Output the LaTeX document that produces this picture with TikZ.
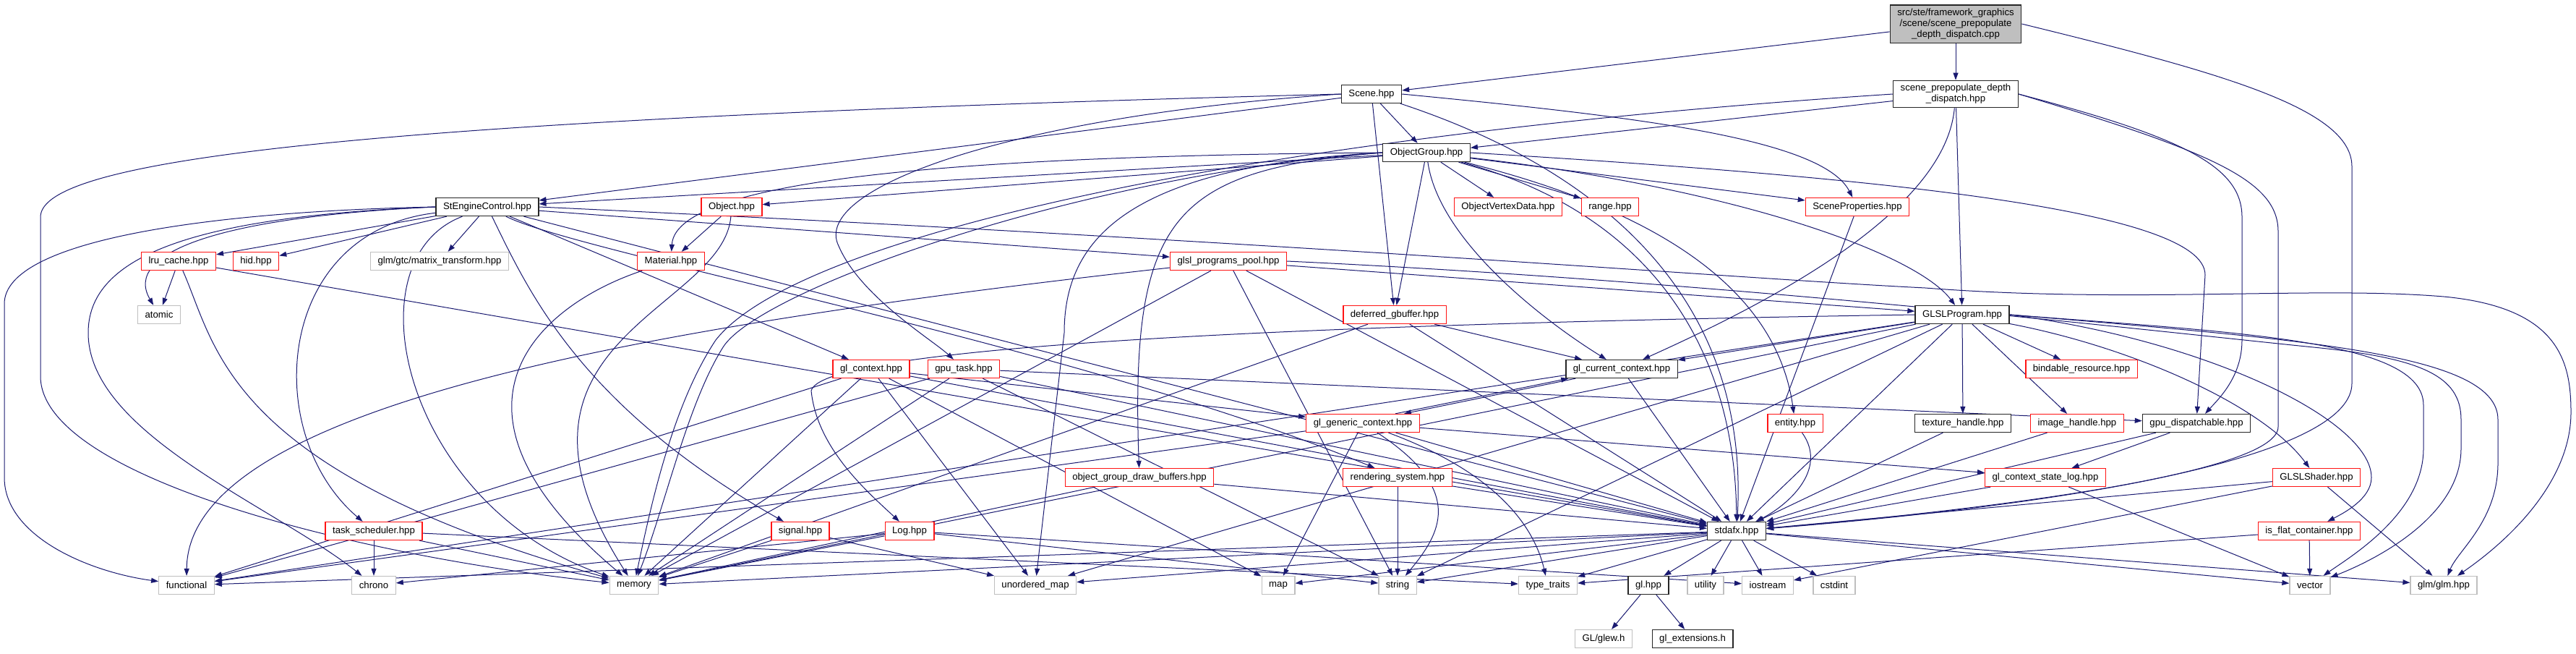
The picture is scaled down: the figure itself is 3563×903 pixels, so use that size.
\documentclass[tikz,border=0pt]{standalone}
\usepackage{fontspec}
\setmainfont{Liberation Sans}
\usepackage{xcolor}
\usepackage{tikz}
\usetikzlibrary{arrows.meta,calc,backgrounds}
\definecolor{edgeblue}{RGB}{25,25,112}
\definecolor{grey75}{RGB}{191,191,191}
\definecolor{truncred}{RGB}{255,20,20}
\newcommand{\filefont}{\fontsize{13.2}{15}\selectfont}

\begin{document}
\begin{tikzpicture}[
  x=1pt, y=-1pt,
  file/.style={draw, fill=white, align=center, font=\filefont, inner xsep=10pt, inner ysep=5pt, minimum height=25pt, line width=1.3pt},
  srcfile/.style={file, draw=black!85, fill=grey75},
  docfile/.style={file, draw=black!85},
  truncfile/.style={file, draw=truncred},
  sysfile/.style={file, draw=grey75},
  arr/.style={-{Triangle[length=10pt, width=7pt]}, line width=1pt, draw=edgeblue, fill=none}
]
\useasboundingbox (0,0) rectangle (3563,903);

% top of the graph
\node[srcfile] (cpp) at (2705,33) {src/ste/framework\_graphics\\/scene/scene\_prepopulate\\\_depth\_dispatch.cpp};
\node[docfile] (sceneprep) at (2705,130) {scene\_prepopulate\_depth\\\_dispatch.hpp};
\node[docfile] (scene) at (1897,130) {Scene.hpp};
\node[docfile] (objgroup) at (1973,211) {ObjectGroup.hpp};

% rank 3 and 4
\node[docfile] (engctl) at (674,286) {StEngineControl.hpp};
\node[truncfile] (object) at (1012,286) {Object.hpp};
\node[truncfile] (vtxdata) at (2086,286) {ObjectVertexData.hpp};
\node[truncfile] (range) at (2227,286) {range.hpp};
\node[truncfile] (sceneprops) at (2569,286) {SceneProperties.hpp};
\node[truncfile] (lru) at (247,361) {lru\_cache.hpp};
\node[truncfile] (hid) at (354,361) {hid.hpp};
\node[sysfile] (mattr) at (608,361) {glm/gtc/matrix\_transform.hpp};
\node[truncfile] (material) at (928,361) {Material.hpp};
\node[truncfile] (pool) at (1699,361) {glsl\_programs\_pool.hpp};

% middle ranks
\node[sysfile] (atomic) at (220,435) {atomic};
\node[truncfile] (gbuffer) at (1929,435) {deferred\_gbuffer.hpp};
\node[docfile] (glslprog) at (2714,435) {GLSLProgram.hpp};
\node[truncfile] (glctx) at (1205,510) {gl\_context.hpp};
\node[truncfile] (gputask) at (1333,510) {gpu\_task.hpp};
\node[docfile] (curctx) at (2243,510) {gl\_current\_context.hpp};
\node[truncfile] (bindable) at (2879,510) {bindable\_resource.hpp};
\node[truncfile] (genctx) at (1885,585) {gl\_generic\_context.hpp};
\node[truncfile] (entity) at (2483,585) {entity.hpp};
\node[docfile] (texhandle) at (2715,585) {texture\_handle.hpp};
\node[truncfile] (imghandle) at (2873,585) {image\_handle.hpp};
\node[docfile] (dispatchable) at (3038,585) {gpu\_dispatchable.hpp};
\node[truncfile] (drawbuf) at (1576,660) {object\_group\_draw\_buffers.hpp};
\node[truncfile] (rendsys) at (1933,660) {rendering\_system.hpp};
\node[truncfile] (statelog) at (2829,660) {gl\_context\_state\_log.hpp};
\node[truncfile] (shader) at (3204,660) {GLSLShader.hpp};
\node[truncfile] (tasksched) at (517,734) {task\_scheduler.hpp};
\node[truncfile] (signal) at (1107,734) {signal.hpp};
\node[truncfile] (log) at (1258,734) {Log.hpp};
\node[docfile] (stdafx) at (2402,734) {stdafx.hpp};
\node[truncfile] (flatcont) at (3194,734) {is\_flat\_container.hpp};

% library headers
\node[sysfile] (functional) at (258,809) {functional};
\node[sysfile] (chrono) at (517,809) {chrono};
\node[sysfile] (memory) at (877,809) {memory};
\node[sysfile] (umap) at (1432,809) {unordered\_map};
\node[sysfile] (map) at (1768,809) {map};
\node[sysfile] (string) at (1933,809) {string};
\node[sysfile] (typetraits) at (2141,809) {type\_traits};
\node[docfile] (glhpp) at (2280,809) {gl.hpp};
\node[sysfile] (utility) at (2359,809) {utility};
\node[sysfile] (iostream) at (2445,809) {iostream};
\node[sysfile] (cstdint) at (2537,809) {cstdint};
\node[sysfile] (vector) at (3195,809) {vector};
\node[sysfile] (glm) at (3380,809) {glm/glm.hpp};
\node[sysfile] (glew) at (2218,883) {GL/glew.h};
\node[docfile] (glext) at (2341,883) {gl\_extensions.h};

\begin{scope}[on background layer]
% source file
\draw[arr] (cpp) -- (scene);
\draw[arr] (cpp) -- (sceneprep);
\draw[arr] (cpp.east) .. controls (3070,100) and (3253,150) .. (3253,230) -- (3253,530) .. controls (3253,620) and (2950,690) .. (stdafx);

% Scene.hpp
\draw[arr] (scene) -- (objgroup);
\draw[arr] (scene) -- (engctl);
\draw[arr] (scene) -- (gbuffer);
\draw[arr] (scene.east) .. controls (2250,160) and (2520,190) .. (sceneprops);
\draw[arr] (scene.west) .. controls (1400,160) and (1120,260) .. (1160,340) .. controls (1190,410) and (1290,470) .. (gputask);
\draw[arr] (scene.west) .. controls (500,165) and (56,220) .. (56,300) -- (56,520) .. controls (56,660) and (500,770) .. (memory);
\draw[arr] (scene) .. controls (2200,230) and (2420,400) .. (stdafx);

% scene_prepopulate_depth_dispatch.hpp
\draw[arr] (sceneprep) -- (objgroup);
\draw[arr] (sceneprep) -- (glslprog);
\draw[arr] (sceneprep) .. controls (2690,300) and (2420,430) .. (curctx);
\draw[arr] (sceneprep.west) .. controls (1700,190) and (1100,330) .. (990,470) .. controls (930,560) and (900,700) .. (memory);
\draw[arr] (sceneprep.east) .. controls (3020,190) and (3101,230) .. (3101,300) -- (3101,470) .. controls (3101,520) and (3070,550) .. (dispatchable);
\draw[arr] (sceneprep.east) .. controls (3060,210) and (3151,250) .. (3151,320) -- (3151,590) .. controls (3151,650) and (2800,700) .. (stdafx);

% ObjectGroup.hpp
\draw[arr] (objgroup) -- (engctl);
\draw[arr] (objgroup) -- (object);
\draw[arr] (objgroup.west) .. controls (1400,215) and (935,240) .. (material);
\draw[arr] (objgroup) -- (vtxdata);
\draw[arr] (objgroup) -- (range);
\draw[arr] (objgroup) -- (sceneprops);
\draw[arr] (objgroup) -- (gbuffer);
\draw[arr] (objgroup) .. controls (2400,260) and (2650,350) .. (glslprog);
\draw[arr] (objgroup) .. controls (1990,330) and (2130,440) .. (curctx);
\draw[arr] (objgroup) .. controls (2330,300) and (2460,420) .. (entity);
\draw[arr] (objgroup) .. controls (2300,300) and (2400,500) .. (stdafx);
\draw[arr] (objgroup.west) .. controls (1620,235) and (1563,300) .. (drawbuf);
\draw[arr] (objgroup.west) .. controls (1560,230) and (1472,330) .. (1472,460) -- (umap);
\draw[arr] (objgroup.west) .. controls (1500,240) and (1050,400) .. (1000,480) .. controls (950,560) and (920,700) .. (memory);
\draw[arr] (objgroup.east) .. controls (2600,245) and (3050,290) .. (3050,380) -- (dispatchable);

% StEngineControl.hpp
\draw[arr] (engctl) -- (lru);
\draw[arr] (engctl) -- (hid);
\draw[arr] (engctl) -- (mattr);
\draw[arr] (engctl.west) .. controls (300,300) and (170,350) .. (atomic);
\draw[arr] (engctl.west) .. controls (300,292) and (6,330) .. (6,420) -- (6,660) .. controls (6,740) and (120,790) .. (functional);
\draw[arr] (engctl.west) .. controls (250,300) and (122,360) .. (122,460) .. controls (122,600) and (380,700) .. (chrono);
\draw[arr] (engctl) .. controls (380,320) and (360,600) .. (tasksched);
\draw[arr] (engctl) .. controls (480,360) and (560,700) .. (memory);
\draw[arr] (engctl) .. controls (730,400) and (800,560) .. (signal);
\draw[arr] (engctl) -- (glctx);
\draw[arr] (engctl) .. controls (800,350) and (1500,480) .. (rendsys);
\draw[arr] (engctl) -- (pool);
\draw[arr] (engctl) -- (stdafx);
\draw[arr] (engctl.east) .. controls (1800,335) and (2400,385) .. (2663,398) .. controls (2950,420) and (3200,395) .. (3380,410) .. controls (3540,425) and (3556,500) .. (3556,570) .. controls (3556,660) and (3480,740) .. (glm);

% Object.hpp, Material.hpp, lru_cache.hpp
\draw[arr] (object) -- (material);
\draw[arr] (object) .. controls (1000,430) and (660,470) .. (memory);
\draw[arr] (material) .. controls (750,420) and (580,560) .. (memory);
\draw[arr] (lru) -- (atomic);
\draw[arr] (lru) .. controls (300,480) and (310,650) .. (memory);
\draw[arr] (lru) -- (stdafx);

% glsl_programs_pool.hpp
\draw[arr] (pool) -- (glslprog);
\draw[arr] (pool) .. controls (900,450) and (260,560) .. (functional);
\draw[arr] (pool) -- (memory);
\draw[arr] (pool) -- (string);
\draw[arr] (pool) -- (stdafx);
\draw[arr] (pool.east) .. controls (2400,390) and (3000,460) .. (3200,480) .. controls (3350,495) and (3404,520) .. (3404,580) -- (3404,620) .. controls (3404,720) and (3270,780) .. (vector);

% GLSLProgram.hpp
\draw[arr] (glslprog) -- (curctx);
\draw[arr] (glslprog) -- (bindable);
\draw[arr] (glslprog) -- (texhandle);
\draw[arr] (glslprog) -- (imghandle);
\draw[arr] (glslprog) .. controls (2950,480) and (3130,560) .. (shader);
\draw[arr] (glslprog.east) .. controls (3050,470) and (3280,580) .. (3280,660) .. controls (3280,690) and (3240,710) .. (flatcont);
\draw[arr] (glslprog.west) .. controls (2000,445) and (1140,470) .. (1122,540) .. controls (1130,620) and (1200,680) .. (log);
\draw[arr] (glslprog) -- (functional);
\draw[arr] (glslprog) -- (memory);
\draw[arr] (glslprog) -- (umap);
\draw[arr] (glslprog) -- (string);
\draw[arr] (glslprog) -- (stdafx);
\draw[arr] (glslprog.east) .. controls (3100,460) and (3352,470) .. (3352,560) -- (3352,620) .. controls (3352,710) and (3250,770) .. (vector);
\draw[arr] (glslprog.east) .. controls (3200,470) and (3455,490) .. (3455,580) -- (3455,640) .. controls (3455,720) and (3400,760) .. (glm);

% deferred_gbuffer.hpp
\draw[arr] (gbuffer) -- (curctx);
\draw[arr] (gbuffer) -- (stdafx);
\draw[arr] (gbuffer) -- (memory);

% gl_context.hpp, gpu_task.hpp
\draw[arr] (glctx) -- (genctx);
\draw[arr] (glctx) -- (functional);
\draw[arr] (glctx) -- (memory);
\draw[arr] (glctx) -- (umap);
\draw[arr] (glctx) -- (map);
\draw[arr] (glctx) -- (stdafx);
\draw[arr] (gputask) -- (dispatchable);
\draw[arr] (gputask) -- (functional);
\draw[arr] (gputask) -- (memory);
\draw[arr] (gputask) -- (string);
\draw[arr] (gputask) -- (stdafx);

% gl_current_context.hpp <-> gl_generic_context.hpp
\draw[arr] ([xshift=-34pt]genctx.north east) -- ([xshift=4pt]curctx.south west);
\draw[arr] ([xshift=14pt]curctx.south west) -- ([xshift=-22pt]genctx.north east);
\draw[arr] (curctx) -- (stdafx);
\draw[arr] (genctx) -- (statelog);
\draw[arr] (genctx) -- (functional);
\draw[arr] (genctx) -- (map);
\draw[arr] (genctx) .. controls (2030,680) and (1990,740) .. (string);
\draw[arr] (genctx) .. controls (2060,650) and (2120,720) .. (typetraits);
\draw[arr] (genctx) -- (stdafx);

% smaller headers
\draw[arr] (entity) .. controls (2530,650) and (2470,700) .. (stdafx);
\draw[arr] (sceneprops) -- (stdafx);
\draw[arr] (texhandle) -- (stdafx);
\draw[arr] (imghandle) -- (stdafx);
\draw[arr] (dispatchable) -- (statelog);
\draw[arr] (dispatchable) -- (stdafx);
\draw[arr] (statelog) -- (vector);
\draw[arr] (statelog) -- (stdafx);
\draw[arr] (shader) -- (stdafx);
\draw[arr] (shader) -- (iostream);
\draw[arr] (shader) -- (glm);
\draw[arr] (flatcont) -- (vector);
\draw[arr] (flatcont) -- (typetraits);
\draw[arr] (drawbuf) -- (memory);
\draw[arr] (drawbuf) -- (stdafx);
\draw[arr] (rendsys) -- (string);
\draw[arr] (rendsys) -- (stdafx);

% task_scheduler.hpp, signal.hpp, Log.hpp
\draw[arr] (tasksched) -- (chrono);
\draw[arr] (tasksched) -- (memory);
\draw[arr] (tasksched) -- (typetraits);
\draw[arr] (signal) -- (memory);
\draw[arr] (signal) -- (umap);
\draw[arr] (log) -- (memory);
\draw[arr] (log) -- (chrono);
\draw[arr] (log) -- (string);
\draw[arr] (log) -- (iostream);

% stdafx.hpp
\draw[arr] (stdafx) -- (functional);
\draw[arr] (stdafx) -- (memory);
\draw[arr] (stdafx) -- (umap);
\draw[arr] (stdafx) -- (map);
\draw[arr] (stdafx) -- (string);
\draw[arr] (stdafx) -- (typetraits);
\draw[arr] (stdafx) -- (glhpp);
\draw[arr] (stdafx) -- (utility);
\draw[arr] (stdafx) -- (iostream);
\draw[arr] (stdafx) -- (cstdint);
\draw[arr] (stdafx) -- (vector);
\draw[arr] (stdafx) -- (glm);

% gl.hpp
\draw[arr] (glhpp) -- (glew);
\draw[arr] (glhpp) -- (glext);
\end{scope}
\end{tikzpicture}
\end{document}
